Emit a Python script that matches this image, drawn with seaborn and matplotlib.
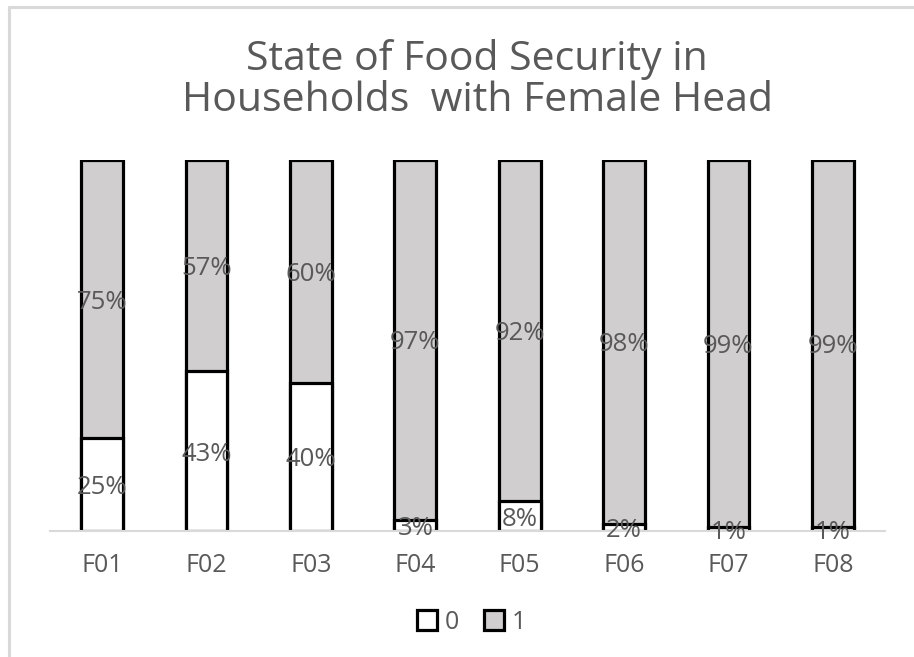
import numpy as np
import pandas as pd
import matplotlib
matplotlib.use("Agg")
import matplotlib.pyplot as plt
import matplotlib.patches as mpatches
import matplotlib.lines as mlines
import seaborn as sns

# data (percent of households)
categories = ["F01", "F02", "F03", "F04", "F05", "F06", "F07", "F08"]
share_0 = [25, 43, 40, 3, 8, 2, 1, 1]
share_1 = [75, 57, 60, 97, 92, 98, 99, 99]

TEXT_GREY = "#595959"
BAR_GREY = "#D0CECF"

sns.set_theme(style="white")
plt.rcParams["font.family"] = ["Open Sans", "DejaVu Sans"]

df = pd.DataFrame({"cat": categories, "s0": share_0, "s1": share_1})
df["total"] = df["s0"] + df["s1"]

fig = plt.figure(figsize=(9.14, 6.57), dpi=100)
ax = fig.add_axes([50 / 914, 126 / 657, 835 / 914, 371 / 657])

# full stack drawn in grey, the "0" part overlaid in white from the bottom
sns.barplot(data=df, x="cat", y="total", color=BAR_GREY, edgecolor="black",
            linewidth=2.3, width=0.4, saturation=1, ax=ax)
sns.barplot(data=df, x="cat", y="s0", color="white", edgecolor="black",
            linewidth=2.3, width=0.4, saturation=1, ax=ax)

for i, (a, b) in enumerate(zip(share_0, share_1)):
    ax.text(i, a / 2, f"{a}%", ha="center", va="center_baseline", fontsize=18.5,
            color=TEXT_GREY)
    ax.text(i, a + b / 2, f"{b}%", ha="center", va="center_baseline", fontsize=18.5,
            color=TEXT_GREY)

ax.set_ylim(0, 100)
ax.set_xlim(-0.5, len(categories) - 0.5)
ax.set_xlabel("")
ax.set_ylabel("")
ax.set_yticks([])
ax.tick_params(axis="x", length=0, labelsize=18, labelcolor=TEXT_GREY, pad=16)
for s in ["top", "left", "right"]:
    ax.spines[s].set_visible(False)
ax.spines["bottom"].set_color("#D9D9D9")
ax.spines["bottom"].set_linewidth(1.5)
ax.set_facecolor("none")

fig.text(0.522, 0.878, "State of Food Security in\nHouseholds  with Female Head",
         ha="center", va="center", fontsize=29.5, color=TEXT_GREY,
         linespacing=1.0)

handles = [mpatches.Patch(facecolor="white", edgecolor="black", linewidth=2.3, label="0"),
           mpatches.Patch(facecolor=BAR_GREY, edgecolor="black", linewidth=2.3, label="1")]
fig.legend(handles=handles, loc="center", bbox_to_anchor=(0.516, 0.053), ncol=2,
           frameon=False, fontsize=18, handlelength=0.8, handleheight=0.8,
           handletextpad=0.3, columnspacing=1.0, labelcolor=TEXT_GREY)

# light frame: only the top and left edges are inside the picture
fig.add_artist(mlines.Line2D([9 / 914, 1], [1 - 7 / 657, 1 - 7 / 657],
                             transform=fig.transFigure, color="#D9D9D9", linewidth=2.2))
fig.add_artist(mlines.Line2D([9 / 914, 9 / 914], [0, 1 - 7 / 657],
                             transform=fig.transFigure, color="#D9D9D9", linewidth=2.2))

fig.savefig("out.png", dpi=100)
